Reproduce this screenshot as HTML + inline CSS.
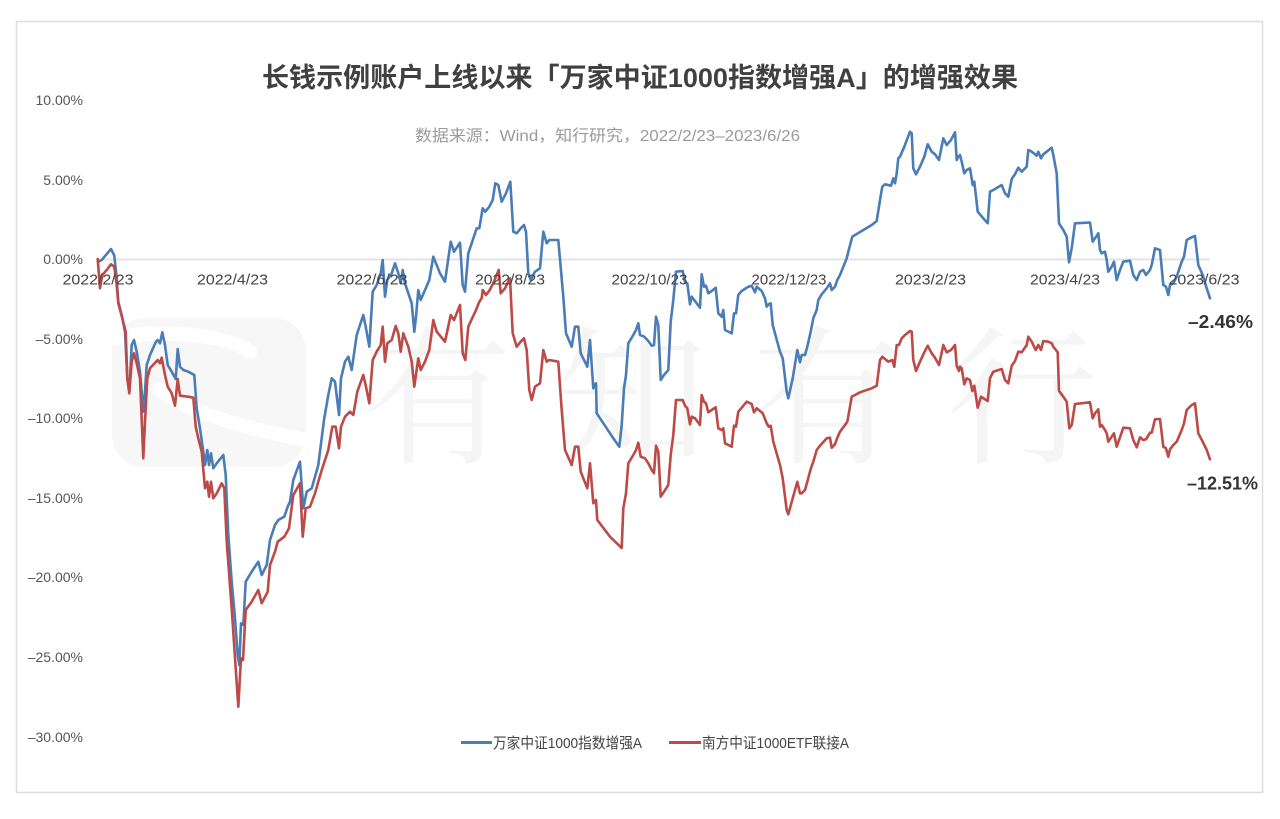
<!DOCTYPE html>
<html>
<head>
<meta charset="utf-8">
<style>
html,body{margin:0;padding:0;background:#fff;}
svg{display:block;}
</style>
</head>
<body>
<svg width="1280" height="819" viewBox="0 0 1280 819" xmlns="http://www.w3.org/2000/svg">
<rect x="0" y="0" width="1280" height="819" fill="#ffffff"/>
<rect x="16.5" y="21.5" width="1246" height="771" fill="#ffffff" stroke="#dedede" stroke-width="1.5"/>

<!-- watermark -->
<rect x="112" y="318" width="194" height="149" rx="32" ry="32" fill="#f7f7f7"/>
<path d="M118 338 Q150 330 200 336 Q240 342 250 352 M160 390 Q200 420 306 440" stroke="#ffffff" stroke-width="14" fill="none" stroke-linecap="round"/>
<text x="362" y="452" font-family="'Liberation Serif','Noto Serif CJK SC',serif" font-size="150" fill="#f5f5f5" textLength="735" lengthAdjust="spacing">有知有行</text>

<!-- title -->
<text x="262" y="87" font-family="'Liberation Sans','Noto Sans CJK SC',sans-serif" font-size="27" font-weight="bold" fill="#404040" textLength="756" lengthAdjust="spacingAndGlyphs">长钱示例账户上线以来「万家中证1000指数增强A」的增强效果</text>
<text x="415" y="141" font-family="'Liberation Sans','Noto Sans CJK SC',sans-serif" font-size="16" fill="#9a9a9a" textLength="385" lengthAdjust="spacingAndGlyphs">数据来源：Wind，知行研究，2022/2/23–2023/6/26</text>

<!-- zero line -->
<line x1="97" y1="259.5" x2="1210" y2="259.5" stroke="#e3e3e3" stroke-width="2"/>

<!-- y axis labels -->
<g font-family="'Liberation Sans',sans-serif" font-size="14" fill="#555555" text-anchor="end">
<text x="83" y="105">10.00%</text>
<text x="83" y="185">5.00%</text>
<text x="83" y="264">0.00%</text>
<text x="83" y="344">–5.00%</text>
<text x="83" y="423">–10.00%</text>
<text x="83" y="503">–15.00%</text>
<text x="83" y="582">–20.00%</text>
<text x="83" y="662">–25.00%</text>
<text x="83" y="742">–30.00%</text>
</g>

<!-- series -->
<polyline fill="none" stroke="#4a7cb6" stroke-width="2.6" stroke-linejoin="round" stroke-linecap="round" points="98,262 101.7,260 111,249 114.3,255.7 116.7,278.3 118.3,301.7 121.7,315 125,331.7 127.3,378.3 129.3,391.7 131.7,345 134,340 136.7,351.7 140,371.7 143.3,411.7 145,391.7 146.7,365 150,355 156,341.7 157.7,340 160,343.3 162.3,332.3 165,345 167.7,365 171.7,371.7 175.7,379 177.7,349 180,366.7 183.3,370 188.3,371.7 194.3,375 196.7,408.3 200,428.3 203.3,451.7 205,465 207.3,450 209,465 211,453.3 213.3,468.3 216.7,463.3 223.3,455 225.7,475 228.3,535 231.7,581.7 235,618.3 237.7,655 239.3,665 241,623.3 243.3,625 245.7,581.7 251.7,571.7 258.3,561.7 261.7,575 266.7,565 270,540 275,525 278.3,520 284.3,516.7 287.7,506.7 290,501.7 293.3,480 300,461.7 303.3,508.3 306.7,491.7 311.7,488.3 318.3,465 324,420 328.3,395 331.7,378.3 335,381.7 339,415 341,378.3 345,361.7 348.3,356.7 351.7,370 356.7,335 363.3,315 366,328.3 369.3,346.7 372.7,291.7 376.7,285 380.7,273.3 382.7,260 385,296.7 387.3,280 391.7,273.3 395,263.3 398.3,273.3 400.7,283.3 402.7,270 405,283.3 408.3,293.3 411.7,303.3 414.3,331.7 416,316.7 418.3,290 420.7,300 425,290 429.3,280 433.3,256.7 440,273.3 445,281.7 450.7,241.7 454,251.7 460,242.7 462.7,285 465,291.7 468.3,253.3 476.7,228.3 479.3,228.3 482.7,208.3 485.3,211.7 489.3,206.7 492.7,200 495.3,183.3 498.3,185 501.7,201.7 506,193.3 510.3,181.7 513.3,231.7 516.7,233.3 520.7,228.3 524,225 526,231.7 528.3,273.3 530.7,280 535,271.7 540,268.3 543.3,231.7 546.7,243.3 549.3,240 558.3,240 563.3,296.7 566,333.3 571.7,346.7 575,326.7 578.3,326.7 580.7,353.3 587.3,366.7 590,340 593.3,388.3 596,383.3 596.7,413.3 606.7,428.3 613.3,438.3 619.3,446.7 621.7,425 624,388.3 626,375 628.3,343.3 633.3,335 636,330 638.3,323.3 640,335 644.3,336.7 648.3,341 651.7,345.7 654,345 656,316.7 658.3,325 660.7,380 664,375 668.3,370 670.7,321.7 673.3,300 676,271.7 682.7,271 685,282.3 687.3,283.3 690,304.3 691.7,296.7 695,301 700,307.7 701.7,274.3 704,286.7 706,285.7 708.3,293.3 711.7,291 715.7,287.7 718.3,313.3 721.7,316.7 723.3,310 725,330 731.7,333.3 734,313.3 736,313.3 738.3,295 741.7,291 748.3,286.7 751.7,285.7 755,292.3 756.7,286.7 761.7,291 765,298.3 766.7,306.7 768.7,304.3 770.7,303.3 772.7,325 780,351.7 782.7,358.3 786.7,391.7 788.3,398.3 792.7,378.3 797.3,350 800,362.3 801.7,355 805,355 807.3,346.7 810.7,331.7 813.3,318.3 816.7,310 818.3,300 821.7,294.3 826.7,288.3 830,283.3 831.7,290 835,286.7 837.3,280 840,275 846.7,258.3 848.3,251.7 852.3,236.7 861.7,231 871.7,225 876.7,221 880,200 882.3,186.7 885,184.3 891,185.7 893.3,178.3 895,183.3 896.7,173.3 898.3,158.3 900,156.7 904.3,146.7 910,131.7 911.7,133.3 913.3,168.3 916,174.3 920,166.7 924.3,156.7 927.7,144.3 931.7,151.7 935,154.3 939,160 943.3,138.3 946.7,145 951,140 955,132.3 956.7,160 958.3,156.7 960,155 961.7,161.7 964.3,173.3 966.7,170 970,168.3 972.7,185 974.3,181.7 977.7,211.7 983.3,218.3 987.7,223.3 990,191.7 993.3,190 1001.7,185 1005,193.3 1008.3,196.7 1011.7,179 1015,174.3 1018.3,167.7 1021.7,171.7 1026.7,166.7 1028.3,150 1031.7,151.7 1036.7,155.7 1038.3,151.7 1041,158.3 1043.3,154.3 1051.7,147.7 1053.3,155 1056.7,173.3 1059,223.3 1063.3,230 1066.7,236.7 1069,262.3 1071.7,248.3 1075,223.3 1090,222.5 1092.7,241.7 1095,238.3 1098.3,233.3 1100,250 1101.7,253.3 1105,251.7 1106.7,260 1108.3,271.7 1111.7,266.7 1114,261.7 1116.7,280 1120,270 1123.3,261.7 1130,260.7 1133.3,275 1136.7,280 1140,271.7 1143.3,270 1146,275 1150,270 1151.7,265 1155,248.3 1160,250 1163.3,285 1166,286.7 1168.3,295 1170,285 1173.3,283.3 1176.7,276.7 1181.7,261.7 1184,256.7 1186.7,240 1191.7,237.3 1195,236 1198.3,265 1202.7,275 1206.7,288.3 1210,298.3"/>

<polyline fill="none" stroke="#bc4a47" stroke-width="2.6" stroke-linejoin="round" stroke-linecap="round" points="97.7,259 100,288.3 102.3,275 106.7,270 111,264.3 114.3,266.7 116.7,285 118.3,303.3 122.3,318.3 125.7,331.7 127.3,378.3 129.3,393.3 131.7,361.7 134,353.3 136.7,363.3 140,378.3 143.3,458.3 145,421.7 147.3,378.3 150,368.3 156,361.7 157.7,360 160,363.3 161.7,357.7 165,375 167.7,386.7 171.7,393.3 175,405.7 177.7,379 180,395.7 188.3,396.7 193.3,397.7 195.7,426.7 198.3,438.3 201.7,451.7 205,488.3 207.3,481.7 209,496.7 211,481.7 213.3,498.3 216.7,493.3 221.7,483.3 224.3,488.3 226.7,541.7 231.7,608.3 235.7,668.3 238.3,706.7 241,658.3 243,660 245.7,610 251.7,601.7 258.3,590 261.7,603.3 267.7,591.7 270,565 275,551.7 277.7,541.7 284.3,536.7 289,528.3 293.3,495 300,483.3 302.7,536.7 305.7,508.3 310,506.7 315,493.3 318.3,481.7 322.3,468.3 328.3,450 332.3,426.7 335.7,426.7 339,448.3 341,426.7 345,416.7 350,411.7 353.3,415 357.3,391.7 363.3,375 366,386.7 369.3,403.3 372.7,360 376.7,351.7 380.7,345 382.7,326.7 385,361.7 387.3,343.3 391.7,340 395.7,326 398.3,333.3 400.7,351.7 403.3,333.3 408.3,346.7 411.7,361.7 414.3,386.7 418.3,358.3 420.7,370 425,361.7 429.3,350 433.3,320 436.7,331.7 445,341.7 450.7,315 454,320 460,305 462.7,353.3 465.3,360 468.3,326.7 476,310 479.3,301.7 481.7,298.3 482.7,290 486,295 489.3,290.7 493.3,283.3 498.7,270 500.7,293.3 505,288.3 510,278.3 512.7,333.3 516.7,346.7 520.7,341.7 524,338.3 526.7,350 529.3,390 531.7,400 535,386.7 540,383.3 543.3,350 546.7,361.7 549.3,360 558.3,361.7 561.7,410 565,450 571.7,465 575,446.7 578.3,446.7 580.7,471.7 587.3,488.3 590,463.3 593.3,503.3 596,500 597.3,520 610,536.7 621.7,548 623.3,508.3 626,493.3 628.3,463.3 633.3,455 636,450 638.3,442.7 640.7,456.7 645,458.3 648.3,463.3 651.7,470 654,473.3 656,445.7 658.3,451.7 660.7,496.7 664,491.7 668.3,485 670.7,455 673.3,435 676,400 682.7,400 685,405.7 687.3,408.3 690,424.3 691.7,416.7 695,418.3 700,425 701.7,395 704,401.7 706,403.3 708.3,412.3 711.7,410 715.7,407.3 718.3,428.3 721.7,430 723.3,428.3 725,443.3 731.7,446.7 734,425.7 736,426.7 738.3,411.7 741.7,407.7 746.7,401.7 751.7,404 754,412.3 756.7,408.3 762.7,413.3 766.7,423.3 768.7,426.7 770.7,425.7 773.3,441.7 780,465 782.7,478.3 786.7,510 788.3,514.3 792.7,498.3 797.3,481.7 800,493.3 801.7,493.3 805,490 807.3,481.7 810.7,469 813.3,461.7 816.7,450 820,445.7 826.7,438.3 830,437.7 831.7,447.7 835,444.3 837.3,437.7 840,431.7 845,425 847.3,421.7 850,406.7 851.7,396.7 855,395 860,392.3 871.7,388.3 876.7,385.7 880,360 882.3,356.7 888.3,361.7 892.3,360 894.3,366.7 896.7,345 899,345 901.7,338.3 905,335 910,331 911.7,331.7 913.3,360 916,371 920,361.7 924.3,352.3 927.7,345.7 931.7,353.3 935,357.7 939,365 943.3,345 946.7,352.3 951,350 955,345 956.7,365.7 959,371 960,366.7 961.7,368.3 964.3,384.3 966.7,378.3 970,380 972.3,391 974.3,385.7 977.7,407.7 981,396.7 987.7,401 990,378.3 993.3,371.7 1001.7,369 1005,380 1008.3,383.3 1011.7,365.7 1015,361 1018.3,351.7 1021.7,352.3 1026.7,345 1028.3,336.7 1031.7,341.7 1035.7,350 1038.3,345 1041,350 1043.3,341 1048.3,341.7 1051.7,343.3 1053.3,346.7 1057.7,352.3 1059,391 1063.3,396.7 1066.7,401.7 1069.3,428.3 1071.7,425 1075,404 1090,402.3 1092.7,418.3 1095,413.3 1098.3,409.3 1100,426.7 1101.7,425 1105,430 1106.7,433.3 1108.3,441.7 1111.7,436.7 1114,433.3 1116.7,446.7 1120,437.3 1123.3,427.7 1130,428.3 1133.3,440 1136.7,447.3 1140,437.3 1143.3,440 1146,439.3 1150,432.7 1151.7,432.7 1155,419.3 1160,419 1163.3,446.7 1166,448.3 1168.3,456.7 1170,449.3 1173.3,445 1176.7,441.7 1181.7,430 1184,423.3 1186.7,410 1191.7,405 1195,403.3 1198.3,433.3 1202.7,441.7 1206.7,450 1210,459.3"/>

<!-- x axis labels (drawn over lines like the reference) -->
<g font-family="'Liberation Sans',sans-serif" font-size="15" fill="#444444">
<text x="62.5" y="284.5" textLength="71" lengthAdjust="spacingAndGlyphs">2022/2/23</text>
<text x="197" y="284.5" textLength="71" lengthAdjust="spacingAndGlyphs">2022/4/23</text>
<text x="336.5" y="284.5" textLength="71" lengthAdjust="spacingAndGlyphs">2022/6/23</text>
<text x="475" y="284.5" textLength="70" lengthAdjust="spacingAndGlyphs">2022/8/23</text>
<text x="611.5" y="284.5" textLength="76" lengthAdjust="spacingAndGlyphs">2022/10/23</text>
<text x="751.5" y="284.5" textLength="75" lengthAdjust="spacingAndGlyphs">2022/12/23</text>
<text x="895" y="284.5" textLength="71" lengthAdjust="spacingAndGlyphs">2023/2/23</text>
<text x="1030" y="284.5" textLength="70" lengthAdjust="spacingAndGlyphs">2023/4/23</text>
<text x="1168.5" y="284.5" textLength="71" lengthAdjust="spacingAndGlyphs">2023/6/23</text>
</g>

<!-- end labels -->
<g font-family="'Liberation Sans',sans-serif" font-size="18" font-weight="bold" fill="#333333">
<text x="1188" y="328" textLength="65" lengthAdjust="spacingAndGlyphs">–2.46%</text>
<text x="1187" y="489.5" textLength="71" lengthAdjust="spacingAndGlyphs">–12.51%</text>
</g>

<!-- legend -->
<line x1="461" y1="742.5" x2="492" y2="742.5" stroke="#4a7cb6" stroke-width="3"/>
<text x="493" y="748" font-family="'Liberation Sans','Noto Sans CJK SC',sans-serif" font-size="15" fill="#444444" textLength="149" lengthAdjust="spacingAndGlyphs">万家中证1000指数增强A</text>
<line x1="669" y1="742.5" x2="701" y2="742.5" stroke="#bc4a47" stroke-width="3"/>
<text x="702" y="748" font-family="'Liberation Sans','Noto Sans CJK SC',sans-serif" font-size="15" fill="#444444" textLength="147" lengthAdjust="spacingAndGlyphs">南方中证1000ETF联接A</text>
</svg>
</body>
</html>
